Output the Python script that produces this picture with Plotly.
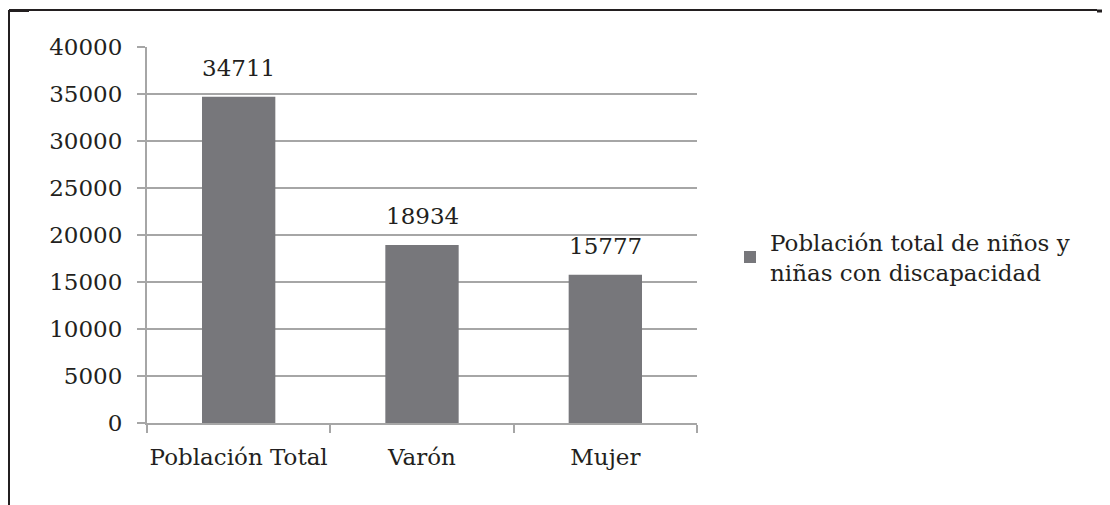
import plotly.graph_objects as go

categories = ["Población Total", "Varón", "Mujer"]
values = [34711, 18934, 15777]
series_name = "Población total de niños y<br>niñas con discapacidad"
y_ticks = [0, 5000, 10000, 15000, 20000, 25000, 30000, 35000, 40000]
y_tick_labels = [str(v) for v in y_ticks]

# The page body has an 8px margin, so the figure is drawn 8px in from the
# window's top-left corner; all pixel positions below are in window pixels.
OFF = 8
W, H = 1110 - OFF, 505 - OFF
L, R, T, B = 147, 697, 47, 423
FONT = dict(family="DejaVu Serif", size=23, color="#231f20")
GRID = "#a6a6a6"
BAR = "#77777b"


def px(x):
    return (x - L) / (R - L)


def py(y):
    return (B - y) / (B - T)


fig = go.Figure()
fig.add_trace(go.Bar(
    x=categories, y=values, name=series_name,
    marker=dict(color=BAR, line=dict(width=0)),
    width=0.4, showlegend=True,
))

for c, v in zip(categories, values):
    fig.add_annotation(x=c, y=v, text=str(v), showarrow=False,
                       yanchor="bottom", yshift=14, font=FONT)

line = dict(color="#231f20", width=2)
fig.add_shape(type="line", xref="paper", yref="paper",
              x0=px(9), x1=px(1097), y0=py(10), y1=py(10), line=line)
fig.add_shape(type="line", xref="paper", yref="paper",
              x0=px(9), x1=px(9), y0=py(10), y1=py(506), line=line)
fig.add_shape(type="line", xref="paper", yref="paper",
              x0=px(1097), x1=px(1110), y0=py(11), y1=py(11),
              line=dict(color="#231f20", width=3))
fig.add_shape(type="line", xref="paper", yref="paper",
              x0=px(9), x1=px(29), y0=py(11), y1=py(11),
              line=dict(color="#231f20", width=2))

fig.update_layout(
    width=W, height=H,
    margin=dict(l=L - OFF, r=1110 - R, t=T - OFF, b=505 - B, pad=0,
                autoexpand=False),
    paper_bgcolor="white", plot_bgcolor="white",
    font=FONT,
    bargap=0.6,
    showlegend=True,
    legend=dict(x=px(730), y=py(257), xanchor="left", yanchor="middle",
                font=FONT, bgcolor="rgba(0,0,0,0)", borderwidth=0,
                itemclick=False),
    xaxis=dict(
        type="category", showgrid=False, showline=True, linecolor=GRID,
        linewidth=2, ticks="outside", tickson="boundaries", ticklen=8,
        tickcolor=GRID, tickwidth=2, tickfont=FONT, ticklabelstandoff=12,
        range=[-0.5, 2.5], tickangle=0, automargin=False,
    ),
    yaxis=dict(
        range=[0, 40000], tickvals=y_ticks, ticktext=y_tick_labels,
        showgrid=True, gridcolor=GRID,
        gridwidth=1.5, showline=True, linecolor=GRID, linewidth=2,
        ticks="outside", ticklen=8, tickcolor=GRID, tickwidth=2,
        tickfont=FONT, zeroline=False, ticklabelstandoff=10,
        automargin=False,
    ),
)

fig.write_html("out.html")
